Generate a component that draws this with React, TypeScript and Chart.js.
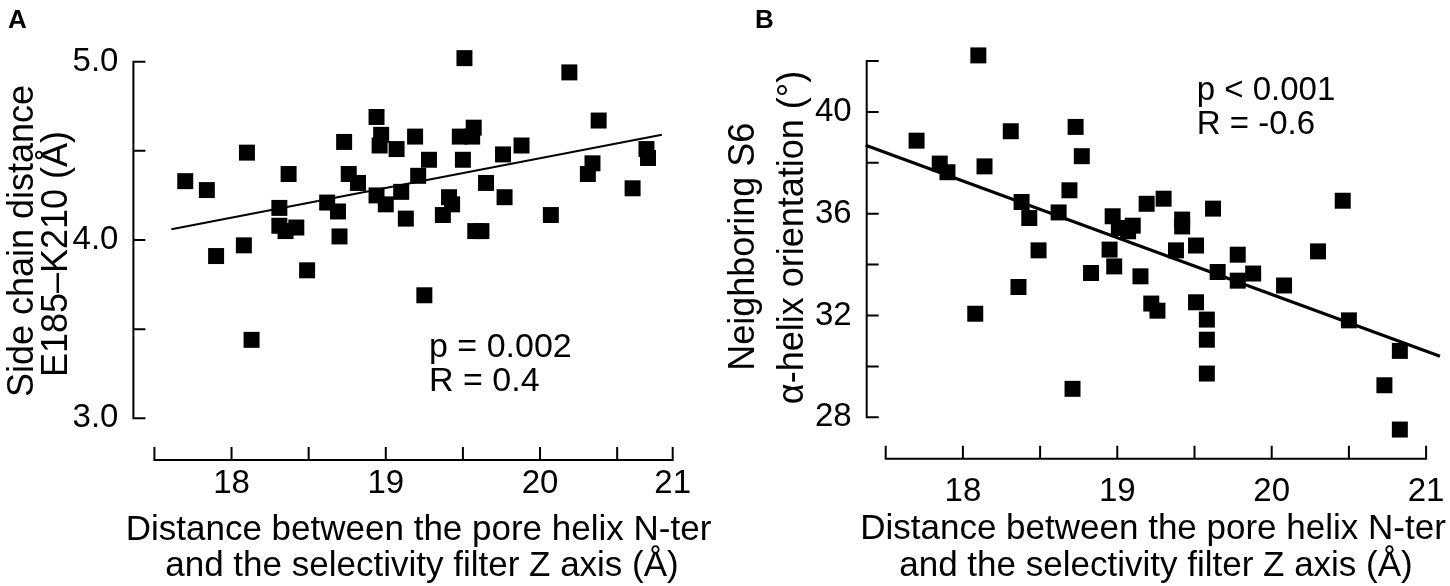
import React, { useEffect, useRef } from "react";
import { Chart, registerables } from "chart.js";

Chart.register(...registerables);

// ---------------- Panel A data ----------------
const distanceA = [
  17.70, 17.84, 17.90, 18.08, 18.10, 18.13, 18.31, 18.31, 18.35, 18.37, 18.42, 18.49,
  18.62, 18.69, 18.70, 18.73, 18.76, 18.82, 18.94, 18.97, 18.96, 18.94, 19.00, 19.07,
  19.10, 19.13, 19.19, 19.28, 19.21, 19.25, 19.37, 19.41, 19.43, 19.48, 19.51, 19.50,
  19.57, 19.56, 19.58, 19.62, 19.65, 19.76, 19.77, 19.88, 20.07, 20.19, 20.31, 20.34,
  20.38, 20.60, 20.69, 20.70,
];
const sideChainA = [
  4.33, 4.28, 3.91, 3.97, 4.49, 3.44, 4.18, 4.08, 4.05, 4.37, 4.07, 3.83,
  4.21, 4.16, 4.02, 4.55, 4.37, 4.32, 4.69, 4.59, 4.53, 4.25, 4.20, 4.51,
  4.27, 4.12, 4.58, 4.45, 4.36, 3.69, 4.14, 4.24, 4.20, 4.58, 5.02, 4.45,
  4.63, 4.58, 4.05, 4.05, 4.32, 4.48, 4.24, 4.53, 4.14, 4.94, 4.37, 4.43,
  4.67, 4.29, 4.51, 4.46,
];
const fitLineAX = [17.61, 20.79];
const fitLineAY = [4.06, 4.59];
const xTicksA = [17.5, 18, 18.5, 19, 19.5, 20, 20.5, 20.86];
const xTickLabelsA = ["", "18", "", "19", "", "20", "", "21"];
const yTicksA = [3, 3.5, 4, 4.5, 5];
const yTickLabelsA = ["3.0", "", "4.0", "", "5.0"];
const yRangeA = [3, 5];
const statsA = ["p = 0.002", "R = 0.4"];
const yTitleA = ["Side chain distance", "E185\u2013K210 (\u00C5)"];

// ---------------- Panel B data ----------------
const distanceB = [
  17.70, 17.85, 17.90, 18.08, 18.10, 18.14, 18.31, 18.36, 18.38, 18.43, 18.49, 18.62,
  18.69, 18.71, 18.73, 18.77, 18.83, 18.95, 18.97, 18.98, 19.01, 19.07, 19.10, 19.15,
  19.19, 19.22, 19.26, 19.30, 19.38, 19.42, 19.42, 19.51, 19.51, 19.58, 19.58, 19.58,
  19.62, 19.65, 19.78, 19.78, 19.88, 20.08, 20.30, 20.46, 20.50, 20.73, 20.83, 20.83,
];
const orientationB = [
  38.87, 37.97, 37.63, 32.07, 42.22, 37.86, 39.24, 33.12, 36.46, 35.83, 34.56, 36.05,
  36.92, 29.12, 39.41, 38.26, 33.67, 34.59, 35.90, 33.93, 35.44, 35.31, 35.53, 33.54,
  36.39, 32.47, 32.19, 36.59, 34.56, 35.50, 35.77, 32.52, 34.75, 31.84, 31.05, 29.72,
  36.20, 33.71, 34.39, 33.37, 33.65, 33.18, 34.52, 36.51, 31.81, 29.26, 30.61, 27.52,
];
const fitLineBX = [17.37, 21.09];
const fitLineBY = [38.69, 30.4];
const xTicksB = [17.5, 18, 18.5, 19, 19.5, 20, 20.5, 21];
const xTickLabelsB = ["", "18", "", "19", "", "20", "", "21"];
const yTicksB = [28, 30, 32, 34, 36, 38, 40, 42];
const yTickLabelsB = ["28", "", "32", "", "36", "", "40", ""];
const yRangeB = [27.4, 42];
const statsB = ["p < 0.001", "R = -0.6"];
const yTitleB = ["Neighboring S6", "\u03B1-helix orientation (\u00B0)"];

const xTitle = ["Distance between the pore helix N-ter", "and the selectivity filter Z axis (\u00C5)"];

const FONT = "'Liberation Sans', Arial, Helvetica, sans-serif";

interface PanelSpec {
  letter: string;
  xs: number[];
  ys: number[];
  fitX: number[];
  fitY: number[];
  xTicks: number[];
  xTickLabels: string[];
  yTicks: number[];
  yTickLabels: string[];
  yRange: number[];
  stats: string[];
  yTitle: string[];
  // layout / style
  canvasLeft: number;
  canvasWidth: number;
  yScaleWidth: number;
  padRight: number;
  padTop: number;
  xScaleHeight: number;
  yLabelPad: number;
  xLabelPad: number;
  yAxisGap: number;
  xAxisGap: number;
  fitWidth: number;
  letterX: number;
  yTitleBaselines: number[];
  yTitleCenters: number[];
  xTitleCenters: number[];
  xTitleBaselines: number[];
  statsX: number;
  statsBaselines: number[];
  statsSize: number;
}

const panels: PanelSpec[] = [
  {
    letter: "A",
    xs: distanceA,
    ys: sideChainA,
    fitX: fitLineAX,
    fitY: fitLineAY,
    xTicks: xTicksA,
    xTickLabels: xTickLabelsA,
    yTicks: yTicksA,
    yTickLabels: yTickLabelsA,
    yRange: yRangeA,
    stats: statsA,
    yTitle: yTitleA,
    canvasLeft: 0,
    canvasWidth: 725,
    yScaleWidth: 154.4,
    padRight: 52.3,
    padTop: 61.7,
    xScaleHeight: 167.7,
    yLabelPad: 36,
    xLabelPad: 46,
    yAxisGap: 21,
    xAxisGap: 41.7,
    fitWidth: 2,
    letterX: 8,
    yTitleBaselines: [32.5, 66.5],
    yTitleCenters: [241, 254],
    xTitleCenters: [418.5, 422],
    xTitleBaselines: [540, 576],
    statsX: 429,
    statsBaselines: [357, 391],
    statsSize: 34,
  },
  {
    letter: "B",
    xs: distanceB,
    ys: orientationB,
    fitX: fitLineBX,
    fitY: fitLineBY,
    xTicks: xTicksB,
    xTickLabels: xTickLabelsB,
    yTicks: yTicksB,
    yTickLabels: yTickLabelsB,
    yRange: yRangeB,
    stats: statsB,
    yTitle: yTitleB,
    canvasLeft: 710,
    canvasWidth: 740,
    yScaleWidth: 175.7,
    padRight: 23.9,
    padTop: 61,
    xScaleHeight: 153.4,
    yLabelPad: 34,
    xLabelPad: 39.7,
    yAxisGap: 19,
    xAxisGap: 26.2,
    fitWidth: 3,
    letterX: 45,
    yTitleBaselines: [44.3, 92.5],
    yTitleCenters: [246.7, 237.5],
    xTitleCenters: [443, 446],
    xTitleBaselines: [538.5, 575.5],
    statsX: 486.7,
    statsBaselines: [100, 134.3],
    statsSize: 33,
  },
];

function makeDecor(p: PanelSpec) {
  return {
    id: "panelDecor" + p.letter,
    afterDraw(chart: any) {
      const { ctx, chartArea } = chart;
      const xs = chart.scales.x;
      const ys = chart.scales.y;
      ctx.save();
      ctx.fillStyle = "#000";
      ctx.strokeStyle = "#000";
      ctx.lineWidth = 2;
      ctx.lineCap = "square";

      // y axis (detached, inward ticks), spanning first to last tick
      const ax = chartArea.left - p.yAxisGap;
      const yFirst = ys.getPixelForValue(p.yTicks[0]);
      const yLast = ys.getPixelForValue(p.yTicks[p.yTicks.length - 1]);
      ctx.beginPath();
      ctx.moveTo(ax, yLast);
      ctx.lineTo(ax, yFirst);
      ys.ticks.forEach((t: any) => {
        const py = ys.getPixelForValue(t.value);
        ctx.moveTo(ax, py);
        ctx.lineTo(ax + 11, py);
      });
      ctx.stroke();

      // x axis (detached, inward ticks)
      const ay = chartArea.bottom + p.xAxisGap;
      const xL = xs.getPixelForValue(p.xTicks[0]);
      const xR = xs.getPixelForValue(p.xTicks[p.xTicks.length - 1]);
      ctx.beginPath();
      ctx.moveTo(xL, ay);
      ctx.lineTo(xR, ay);
      xs.ticks.forEach((t: any) => {
        const px = xs.getPixelForValue(t.value);
        ctx.moveTo(px, ay);
        ctx.lineTo(px, ay - 12);
      });
      ctx.stroke();

      // panel letter
      ctx.font = `bold 26px ${FONT}`;
      ctx.textAlign = "left";
      ctx.textBaseline = "alphabetic";
      ctx.fillText(p.letter, p.letterX, 28);

      // y title (rotated)
      ctx.font = `36px ${FONT}`;
      ctx.textAlign = "center";
      p.yTitle.forEach((line, i) => {
        ctx.save();
        ctx.translate(p.yTitleBaselines[i], p.yTitleCenters[i]);
        ctx.rotate(-Math.PI / 2);
        ctx.fillText(line, 0, 0);
        ctx.restore();
      });

      // x title
      ctx.font = `35px ${FONT}`;
      ctx.textAlign = "center";
      xTitle.forEach((line, i) => {
        ctx.fillText(line, p.xTitleCenters[i], p.xTitleBaselines[i]);
      });

      // statistics
      ctx.font = `${p.statsSize}px ${FONT}`;
      ctx.textAlign = "left";
      p.stats.forEach((line, i) => {
        ctx.fillText(line, p.statsX, p.statsBaselines[i]);
      });

      ctx.restore();
    },
  };
}

function makeConfig(p: PanelSpec): any {
  const points = p.xs.map((x, i) => ({ x, y: p.ys[i] }));
  const fit = p.fitX.map((x, i) => ({ x, y: p.fitY[i] }));
  return {
    type: "scatter",
    data: {
      datasets: [
        {
          data: fit,
          showLine: true,
          pointRadius: 0,
          borderColor: "#000",
          borderWidth: p.fitWidth,
          clip: false,
        },
        {
          data: points,
          pointStyle: "rect",
          pointRadius: 11.3,
          pointHoverRadius: 11.3,
          backgroundColor: "#000",
          borderColor: "#000",
          borderWidth: 0,
          clip: false,
        },
      ],
    },
    options: {
      animation: false,
      responsive: true,
      maintainAspectRatio: false,
      events: [],
      layout: { padding: { left: 0, right: p.padRight, top: p.padTop, bottom: 0 } },
      plugins: {
        legend: { display: false },
        tooltip: { enabled: false },
        title: { display: false },
      },
      scales: {
        x: {
          type: "linear",
          min: p.xTicks[0],
          max: p.xTicks[p.xTicks.length - 1],
          afterBuildTicks: (s: any) => {
            s.ticks = p.xTicks.map((v) => ({ value: v }));
          },
          afterFit: (s: any) => {
            s.height = p.xScaleHeight;
          },
          // invisible tick marks only used to offset the labels away from the plot
          grid: { display: false, drawTicks: true, tickLength: p.xLabelPad },
          border: { display: false },
          ticks: {
            autoSkip: false,
            maxRotation: 0,
            minRotation: 0,
            padding: 0,
            color: "#000",
            font: { family: FONT, size: 33 },
            callback: (_v: any, i: number) => p.xTickLabels[i] ?? "",
          },
        },
        y: {
          type: "linear",
          min: p.yRange[0],
          max: p.yRange[1],
          afterBuildTicks: (s: any) => {
            s.ticks = p.yTicks.map((v) => ({ value: v }));
          },
          afterFit: (s: any) => {
            s.width = p.yScaleWidth;
          },
          grid: { display: false, drawTicks: true, tickLength: p.yLabelPad },
          border: { display: false },
          ticks: {
            autoSkip: false,
            padding: 0,
            color: "#000",
            font: { family: FONT, size: 33 },
            callback: (_v: any, i: number) => p.yTickLabels[i] ?? "",
          },
        },
      },
    },
    plugins: [makeDecor(p)],
  };
}

function Panel({ spec }: { spec: PanelSpec }) {
  const ref = useRef<HTMLCanvasElement | null>(null);
  useEffect(() => {
    if (!ref.current) return;
    const chart = new Chart(ref.current, makeConfig(spec));
    return () => chart.destroy();
  }, [spec]);
  return (
    <div
      style={{
        position: "absolute",
        left: spec.canvasLeft,
        top: 0,
        width: spec.canvasWidth,
        height: 586,
      }}
    >
      <canvas ref={ref} style={{ display: "block" }} />
    </div>
  );
}

export default function App() {
  return (
    <div
      style={{
        position: "fixed",
        left: 0,
        top: 0,
        width: 1450,
        height: 586,
        background: "#fff",
        overflow: "hidden",
      }}
    >
      {panels.map((p) => (
        <Panel key={p.letter} spec={p} />
      ))}
    </div>
  );
}
